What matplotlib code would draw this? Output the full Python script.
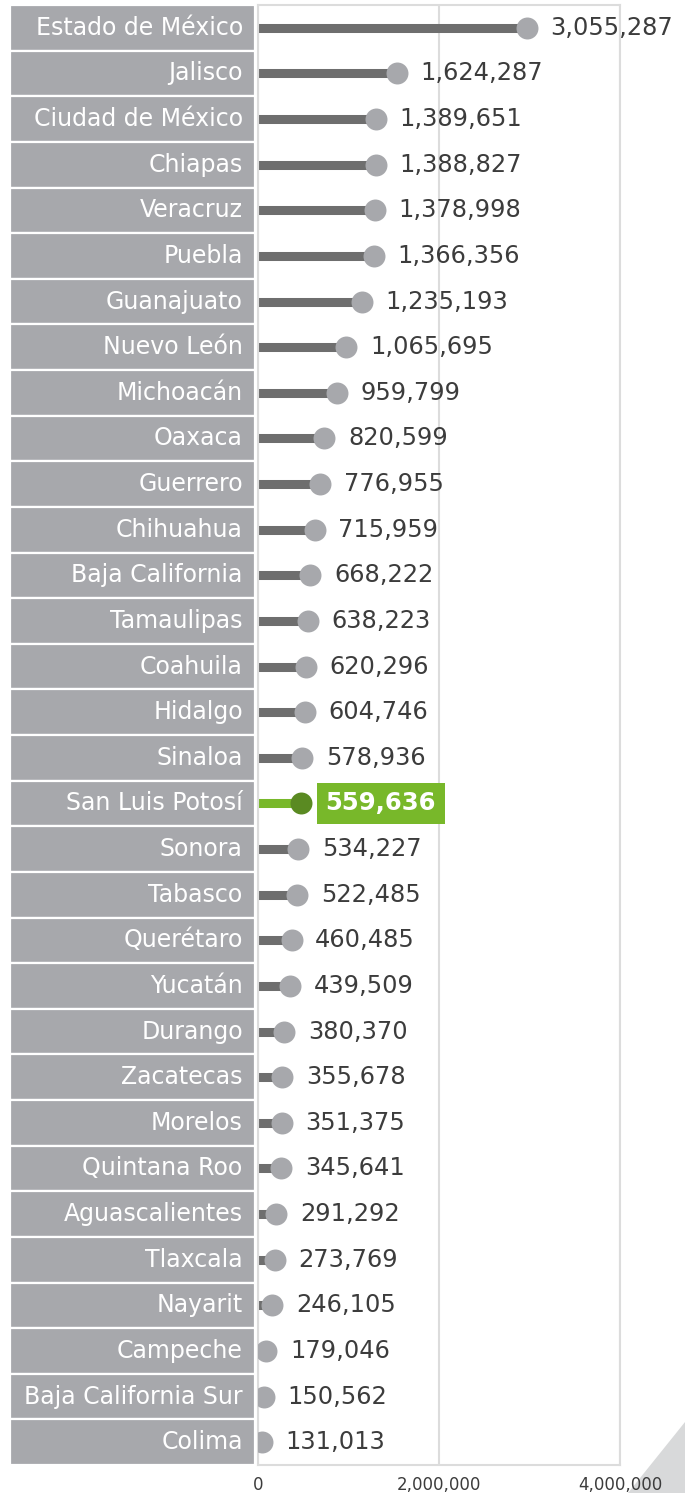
import matplotlib
matplotlib.use("Agg")
import matplotlib.pyplot as plt
from matplotlib.patches import Polygon
from matplotlib.transforms import ScaledTranslation

states = ["Estado de México", "Jalisco", "Ciudad de México", "Chiapas", "Veracruz",
          "Puebla", "Guanajuato", "Nuevo León", "Michoacán", "Oaxaca", "Guerrero",
          "Chihuahua", "Baja California", "Tamaulipas", "Coahuila", "Hidalgo",
          "Sinaloa", "San Luis Potosí", "Sonora", "Tabasco", "Querétaro", "Yucatán",
          "Durango", "Zacatecas", "Morelos", "Quintana Roo", "Aguascalientes",
          "Tlaxcala", "Nayarit", "Campeche", "Baja California Sur", "Colima"]
values = [3055287, 1624287, 1389651, 1388827, 1378998, 1366356, 1235193, 1065695,
          959799, 820599, 776955, 715959, 668222, 638223, 620296, 604746, 578936,
          559636, 534227, 522485, 460485, 439509, 380370, 355678, 351375, 345641,
          291292, 273769, 246105, 179046, 150562, 131013]
highlight = "San Luis Potosí"
xticks = [0, 2000000, 4000000]

W, H = 685, 1493
fig = plt.figure(figsize=(W / 100, H / 100), dpi=100)
fig.patch.set_facecolor("white")

top_px, bot_px = 5, 1465
ax = fig.add_axes([258 / W, (H - bot_px) / H, (620 - 258) / W, (bot_px - top_px) / H])
lax = fig.add_axes([10 / W, (H - bot_px) / H, (255 - 10) / W, (bot_px - top_px) / H])

n = len(states)
ys = list(range(n))

GREY = "#A7A8AC"
BAR = "#6E6E6E"
GREEN = "#78B82A"
DGREEN = "#5A8A22"
TXT = "#3C3C3C"

# label panel
lax.barh(ys, [1] * n, height=1, left=0, color=GREY, edgecolor="white", linewidth=1.6)
for y, s in zip(ys, states):
    lax.text(0.95, y, s, ha="right", va="center", color="white", fontsize=17,
             family="DejaVu Sans")
lax.set_xlim(0, 1)
lax.set_ylim(n - 0.5, -0.5)
lax.axis("off")

# dots sit slightly left of the bar end
shift = ScaledTranslation(-8 / 100, 0, fig.dpi_scale_trans)
dot_tr = ax.transData + shift

for y, s, v in zip(ys, states, values):
    hi = (s == highlight)
    ax.hlines(y, 0, v, color=GREEN if hi else BAR, linewidth=6.5, capstyle="butt",
              zorder=2, transform=dot_tr)
    ax.scatter([v], [y], s=250, color=DGREEN if hi else GREY, zorder=3, linewidths=0,
               transform=dot_tr, clip_on=True)
    label = f"{v:,}"
    if hi:
        ax.annotate(label, (v, y), xycoords=dot_tr, xytext=(18, 0),
                    textcoords="offset points",
                    ha="left", va="center", fontsize=17.5, fontweight="bold", color="white",
                    family="DejaVu Sans",
                    bbox=dict(boxstyle="square,pad=0.36", fc=GREEN, ec="none"),
                    annotation_clip=False)
    else:
        ax.annotate(label, (v, y), xycoords=dot_tr, xytext=(17, 0),
                    textcoords="offset points",
                    ha="left", va="center", fontsize=17.4, color=TXT,
                    family="DejaVu Sans", annotation_clip=False)

ax.set_xlim(0, 4000000)
ax.set_ylim(n - 0.5, -0.5)
ax.set_yticks([])
ax.set_xticks(xticks)
ax.set_xticklabels([f"{t:,}" for t in xticks], fontsize=12, color=TXT)
ax.tick_params(axis="x", length=0, pad=8)
ax.grid(axis="x", color="#DCDCDC", linewidth=1.5, zorder=0)
ax.set_axisbelow(True)
for sp in ax.spines.values():
    sp.set_color("#DCDCDC")
    sp.set_linewidth(1.5)

# decorative corner triangle
tri = Polygon([[685 / W, (H - 1422) / H], [685 / W, 0], [628 / W, 0]],
              closed=True, transform=fig.transFigure, facecolor="#D8D9DA",
              edgecolor="none", zorder=-1)
fig.patches.append(tri)

fig.savefig("out.png", dpi=100, facecolor="white")
